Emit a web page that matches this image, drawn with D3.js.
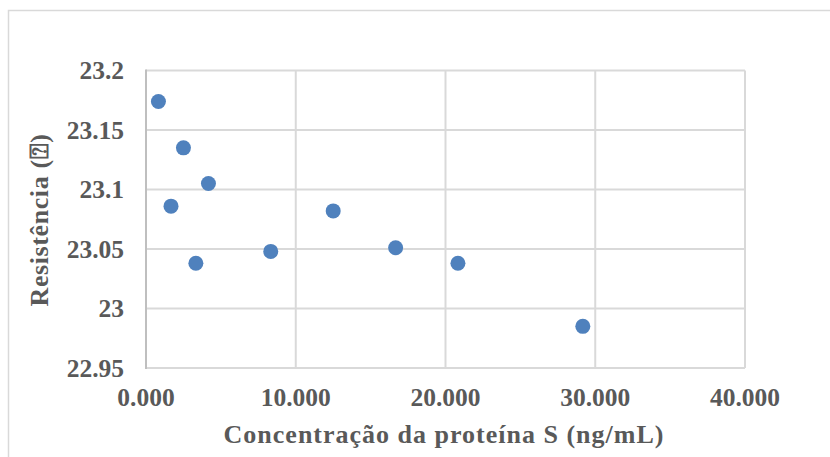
<!DOCTYPE html>
<meta charset="utf-8">
<style>
body {
  margin: 0;
  background: #fff;
}
text {
  font-family: "Liberation Serif", "DejaVu Serif", serif;
  font-weight: bold;
  fill: #595959;
}
.grid line {
  stroke: #d9d9d9;
  stroke-width: 2;
}
</style>
<svg width="830" height="457"></svg>
<script src="https://d3js.org/d3.v7.min.js"></script>
<script>

// concentration (ng/mL) and resistance
var concentracao = [0.83, 2.5, 4.17, 1.67, 3.33, 8.33, 12.5, 16.67, 20.83, 29.17];
var resistencia = [23.174, 23.135, 23.105, 23.086, 23.038, 23.048, 23.082, 23.051, 23.038, 22.985];

var xTicks = [0, 10, 20, 30, 40];
var yTicks = [22.95, 23, 23.05, 23.1, 23.15, 23.2];
var yTickLabels = ["22.95", "23", "23.05", "23.1", "23.15", "23.2"];

var svg = d3.select("svg");

// chart frame (only top + left edges visible in the crop)
svg.append("path")
    .attr("d", "M8.5,457V10.5H830")
    .attr("fill", "none")
    .attr("stroke", "#d9d9d9")
    .attr("stroke-width", 1.5);

var x = d3.scaleLinear().domain([0, 40]).range([146, 745]);
var y = d3.scaleLinear().domain([22.95, 23.2]).range([368, 70.5]);

var grid = svg.append("g").attr("class", "grid");

grid.selectAll(".vline")
  .data(xTicks.slice(1))
  .enter().append("line")
    .attr("x1", function(d) { return x(d); })
    .attr("x2", function(d) { return x(d); })
    .attr("y1", y(22.95))
    .attr("y2", y(23.2));

grid.selectAll(".hline")
  .data(yTicks)
  .enter().append("line")
    .attr("x1", x(0))
    .attr("x2", x(40))
    .attr("y1", function(d) { return y(d); })
    .attr("y2", function(d) { return y(d); });

// left axis line a little darker
svg.append("line")
    .attr("x1", x(0)).attr("x2", x(0))
    .attr("y1", y(22.95) + 1).attr("y2", y(23.2) - 1)
    .attr("stroke", "#bfbfbf")
    .attr("stroke-width", 2);

// tick labels
svg.selectAll(".ylab")
  .data(yTicks)
  .enter().append("text")
    .attr("x", 124)
    .attr("y", function(d) { return y(d); })
    .attr("dy", "0.34em")
    .attr("text-anchor", "end")
    .style("font-size", "25.5px")
    .text(function(d, i) { return yTickLabels[i]; });

var fmt = function(d) { return d3.format(".3f")(d); };

svg.selectAll(".xlab")
  .data(xTicks)
  .enter().append("text")
    .attr("x", function(d) { return x(d); })
    .attr("y", 406)
    .attr("text-anchor", "middle")
    .style("font-size", "25.5px")
    .text(fmt);

// axis titles
svg.append("text")
    .attr("x", 444)
    .attr("y", 443)
    .attr("text-anchor", "middle")
    .style("font-size", "26px")
    .style("letter-spacing", "1px")
    .text("Concentração da proteína S (ng/mL)");

svg.append("text")
    .attr("transform", "translate(48,220) rotate(-90)")
    .attr("text-anchor", "middle")
    .style("font-size", "26px")
    .style("letter-spacing", "0.6px")
    .text("Resistência (\u2370)");

// points
svg.selectAll(".dot")
  .data(concentracao)
  .enter().append("circle")
    .attr("cx", function(d) { return x(d); })
    .attr("cy", function(d, i) { return y(resistencia[i]); })
    .attr("r", 7.5)
    .attr("fill", "#4f81bd");

</script>
